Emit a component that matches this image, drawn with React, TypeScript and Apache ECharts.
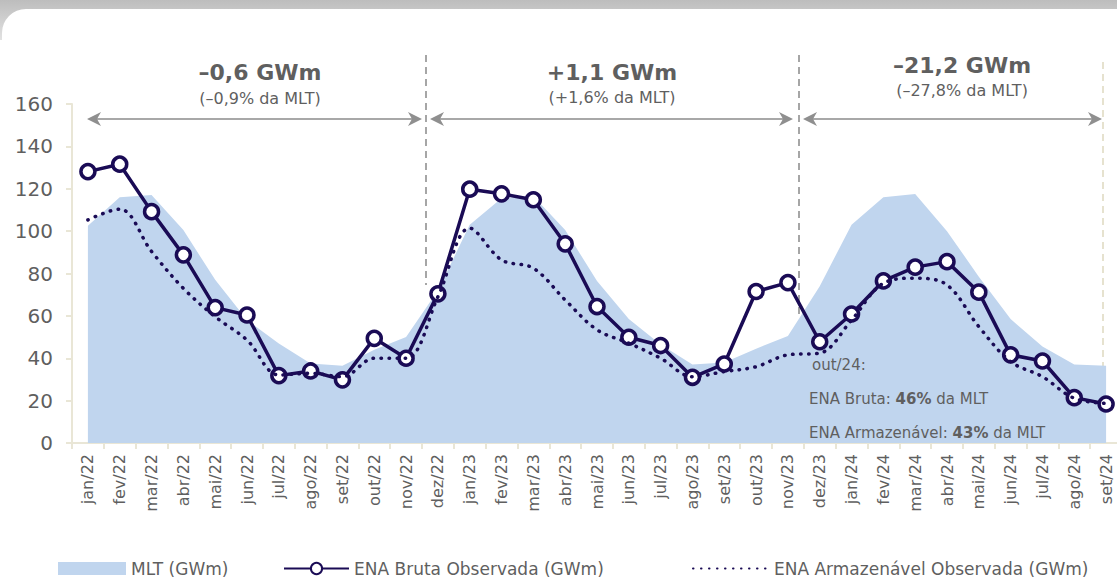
import React, { useEffect, useRef } from "react";
import * as echarts from "echarts";

const months = [
  "jan/22", "fev/22", "mar/22", "abr/22", "mai/22", "jun/22", "jul/22", "ago/22", "set/22", "out/22", "nov/22", "dez/22",
  "jan/23", "fev/23", "mar/23", "abr/23", "mai/23", "jun/23", "jul/23", "ago/23", "set/23", "out/23", "nov/23", "dez/23",
  "jan/24", "fev/24", "mar/24", "abr/24", "mai/24", "jun/24", "jul/24", "ago/24", "set/24",
];

const mlt = [
  102.5, 116, 117, 100.5, 77, 58, 47, 37.5, 36.5, 44, 50, 72,
  103, 115.5, 116.5, 100.5, 76.5, 58.5, 46.5, 37, 38, 44.5, 50.5, 74,
  103, 116, 117.5, 100, 78.5, 58.5, 45.5, 37, 36.5,
];

const enaBruta = [
  128.1, 131.6, 109.2, 88.8, 63.9, 60.4, 31.8, 34.0, 29.8, 49.4, 40.0, 70.4,
  119.8, 117.6, 114.8, 94.0, 64.4, 49.9, 46.0, 31.0, 37.3, 71.5, 75.7, 47.8,
  60.9, 76.5, 83.0, 85.6, 71.2, 41.6, 38.7, 21.4, 18.4,
];

const enaArmazenavel = [
  105.3, 110.4, 90.4, 73.0, 59.6, 48.6, 32.1, 32.9, 31.3, 40.0, 40.0, 69.0,
  101.4, 86.4, 82.5, 67.5, 53.4, 47.1, 40.0, 31.3, 33.7, 36.0, 41.6, 42.4,
  58.0, 75.4, 77.8, 74.6, 54.9, 38.4, 31.3, 21.1, 18.7,
];

const yTicks = { min: 0, max: 160, interval: 20 };

const periods = [
  { value: "–0,6 GWm", pct: "(–0,9% da MLT)", cx: 260, y1: 72, y2: 98 },
  { value: "+1,1 GWm", pct: "(+1,6% da MLT)", cx: 612, y1: 72, y2: 97 },
  { value: "–21,2 GWm", pct: "(–27,8% da MLT)", cx: 962, y1: 65, y2: 90 },
];

const NAVY = "#1a0b55";
const BLUE = "#c0d5ee";
const GRAY_TXT = "#5f5f5f";
const AXIS = "#e9e6d6";
const FONT = "DejaVu Sans";

function arrow(x1: number, x2: number, y: number) {
  const c = "#8f8f8f";
  return [
    { type: "line", shape: { x1: x1 + 6, y1: y, x2: x2 - 6, y2: y }, style: { stroke: "#a8a8a8", lineWidth: 2 } },
    {
      type: "polygon",
      shape: { points: [[x1, y], [x1 + 14, y - 7], [x1 + 10, y], [x1 + 14, y + 7]] },
      style: { fill: c },
    },
    {
      type: "polygon",
      shape: { points: [[x2, y], [x2 - 14, y - 7], [x2 - 10, y], [x2 - 14, y + 7]] },
      style: { fill: c },
    },
  ];
}

export default function App() {
  const ref = useRef<HTMLDivElement>(null);
  useEffect(() => {
    if (!ref.current) return;
    const chart = echarts.init(ref.current, undefined, { renderer: "svg" });
    const graphics: any[] = [
      {
        type: "rect",
        z: -10,
        silent: true,
        shape: { x: 0, y: 0, width: 1117, height: 40 },
        style: {
          fill: new echarts.graphic.LinearGradient(0, 0, 0, 1, [
            { offset: 0, color: "#bdbdbd" },
            { offset: 1, color: "#e2e2e2" },
          ]),
        },
      },
      {
        type: "rect",
        z: -9,
        silent: true,
        shape: { x: 2, y: 9, width: 1300, height: 700, r: [24, 0, 0, 0] },
        style: { fill: "#ffffff" },
      },
      // dashed separators
      { type: "line", shape: { x1: 426, y1: 55, x2: 426, y2: 285 }, style: { stroke: "#a6a6a6", lineWidth: 2, lineDash: [7, 5] } },
      { type: "line", shape: { x1: 799, y1: 55, x2: 799, y2: 315 }, style: { stroke: "#a6a6a6", lineWidth: 2, lineDash: [7, 5] } },
      { type: "line", shape: { x1: 1103, y1: 62, x2: 1103, y2: 440 }, style: { stroke: "#e6e2cf", lineWidth: 2, lineDash: [7, 5] } },
      ...arrow(87, 422, 119),
      ...arrow(430, 793, 119),
      ...arrow(803, 1102, 119),
    ];
    periods.forEach((p) => {
      graphics.push({
        type: "text",
        x: p.cx,
        y: p.y1,
        style: {
          text: p.value,
          fill: GRAY_TXT,
          font: `bold 22px "${FONT}"`,
          align: "center",
          verticalAlign: "middle",
        },
      });
      graphics.push({
        type: "text",
        x: p.cx,
        y: p.y2,
        style: {
          text: p.pct,
          fill: GRAY_TXT,
          font: `16px "${FONT}"`,
          align: "center",
          verticalAlign: "middle",
        },
      });
    });
    const noteRich = {
      b: { fontWeight: "bold", fontSize: 15, fontFamily: FONT, fill: GRAY_TXT, color: GRAY_TXT },
    };
    graphics.push(
      {
        type: "text",
        x: 812,
        y: 365,
        z: 100,
        style: { text: "out/24:", fill: GRAY_TXT, font: `15px "${FONT}"`, verticalAlign: "middle" },
      },
      {
        type: "text",
        x: 809,
        y: 399,
        z: 100,
        style: {
          text: "ENA Bruta: {b|46%} da MLT",
          fill: GRAY_TXT,
          font: `15px "${FONT}"`,
          verticalAlign: "middle",
          rich: noteRich,
        },
      },
      {
        type: "text",
        x: 809,
        y: 433,
        z: 100,
        style: {
          text: "ENA Armazenável: {b|43%} da MLT",
          fill: GRAY_TXT,
          font: `15px "${FONT}"`,
          verticalAlign: "middle",
          rich: noteRich,
        },
      }
    );

    const legendText = { color: GRAY_TXT, fontSize: 17, fontFamily: FONT };

    chart.setOption({
      animation: false,
      backgroundColor: "transparent",
      textStyle: { fontFamily: FONT },
      grid: { left: 72, right: -5, top: 104, bottom: 136, containLabel: false, outerBoundsMode: "none" },
      legend: [
        {
          left: 58,
          top: 560,
          padding: 0,
          itemWidth: 68,
          itemHeight: 13,
          textStyle: legendText,
          data: [{ name: "MLT (GWm)", icon: "rect", itemStyle: { color: BLUE } }],
        },
        {
          left: 283,
          top: 560,
          padding: 0,
          itemWidth: 65,
          itemHeight: 14,
          textStyle: legendText,
          data: ["ENA Bruta Observada (GWm)"],
        },
        {
          left: 692,
          top: 560,
          padding: 0,
          itemWidth: 76,
          itemHeight: 14,
          textStyle: legendText,
          itemStyle: { opacity: 0, borderWidth: 0 },
          data: ["ENA Armazenável Observada (GWm)"],
        },
      ],
      xAxis: {
        type: "category",
        data: months,
        boundaryGap: true,
        axisLine: { lineStyle: { color: AXIS, width: 2 } },
        axisTick: { show: true, length: 6, lineStyle: { color: AXIS, width: 2 } },
        axisLabel: { rotate: 90, fontSize: 16, color: GRAY_TXT, margin: 11, interval: 0, fontFamily: FONT },
        splitLine: { show: false },
      },
      yAxis: {
        type: "value",
        min: yTicks.min,
        max: yTicks.max,
        interval: yTicks.interval,
        axisLine: { show: true, lineStyle: { color: AXIS, width: 2 } },
        axisTick: { show: true, length: 6, lineStyle: { color: AXIS, width: 2 } },
        axisLabel: { fontSize: 20, color: GRAY_TXT, margin: 19, fontFamily: FONT },
        splitLine: { show: false },
      },
      series: [
        {
          name: "MLT (GWm)",
          type: "line",
          data: mlt,
          symbol: "none",
          lineStyle: { width: 0, color: BLUE },
          itemStyle: { color: BLUE },
          areaStyle: { color: BLUE, opacity: 1 },
          z: 1,
        },
        {
          name: "ENA Bruta Observada (GWm)",
          type: "line",
          data: enaBruta,
          symbol: "circle",
          symbolSize: 14,
          lineStyle: { width: 3.5, color: NAVY },
          itemStyle: { color: "#ffffff", borderColor: NAVY, borderWidth: 3.5 },
          z: 3,
        },
        {
          name: "ENA Armazenável Observada (GWm)",
          type: "line",
          data: enaArmazenavel,
          symbol: "none",
          smooth: 0.35,
          lineStyle: { width: 3.5, color: NAVY, type: [0.5, 7.5], cap: "round" },
          itemStyle: { color: NAVY },
          z: 4,
        },
      ],
      graphic: graphics,
    });
    return () => chart.dispose();
  }, []);

  return (
    <div
      ref={ref}
      style={{ position: "fixed", left: 0, top: 0, width: 1117, height: 579, background: "#ffffff" }}
    />
  );
}
